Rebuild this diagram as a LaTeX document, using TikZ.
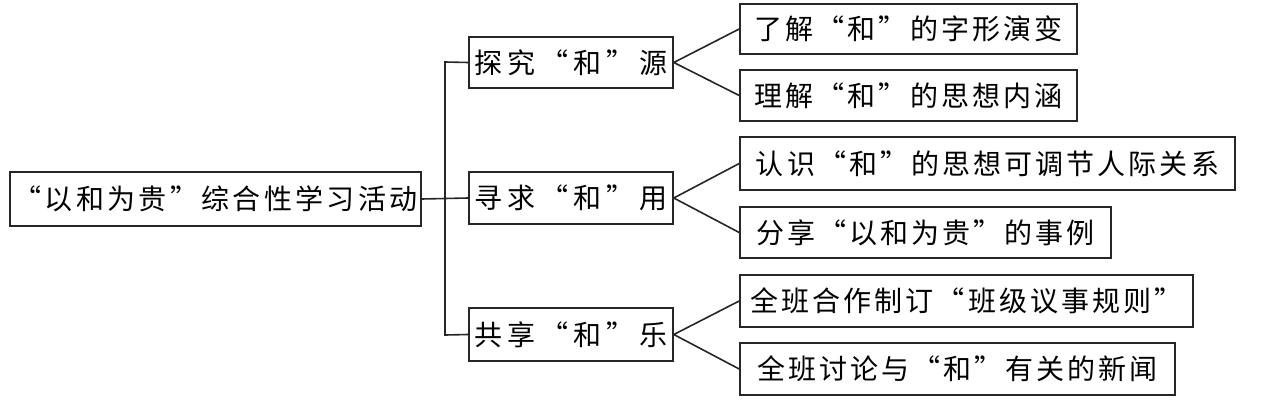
\documentclass[tikz,border=0pt]{standalone}
\usepackage{fontspec}
\newfontfamily\cjkroot[LetterSpace=12]{Noto Sans CJK SC}
\newfontfamily\cjkmid[LetterSpace=18]{Noto Sans CJK SC}
\newfontfamily\cjkleaf[LetterSpace=11]{Noto Sans CJK SC}
\begin{document}
\begin{tikzpicture}[x=0.75pt,y=-0.75pt,
  box/.style={draw=black!85, line width=1.2pt, inner sep=0pt, font=\fontsize{21}{24}\selectfont},
  link/.style={draw=black!85, line width=1.2pt}]
\useasboundingbox (0,0) rectangle (1262,403);
% root
\node[box, minimum width=411*0.75pt, minimum height=54*0.75pt] (root) at (215.5,199) {\cjkroot “以和为贵”综合性学习活动};
% middle
\node[box, minimum width=204*0.75pt, minimum height=51*0.75pt] (m1) at (571,62.5) {\cjkmid 探究“和”源};
\node[box, minimum width=204*0.75pt, minimum height=52*0.75pt] (m2) at (571,198) {\cjkmid 寻求“和”用};
\node[box, minimum width=204*0.75pt, minimum height=53*0.75pt] (m3) at (571,334.5) {\cjkmid 共享“和”乐};
% leaves
\node[box, minimum width=337*0.75pt, minimum height=50*0.75pt] (l1) at (908.5,29) {\cjkleaf 了解“和”的字形演变};
\node[box, minimum width=337*0.75pt, minimum height=51*0.75pt] (l2) at (908.5,95.5) {\cjkleaf 理解“和”的思想内涵};
\node[box, minimum width=495*0.75pt, minimum height=53*0.75pt] (l3) at (987.5,163.5) {\cjkleaf 认识“和”的思想可调节人际关系};
\node[box, minimum width=371*0.75pt, minimum height=51*0.75pt] (l4) at (925.5,232.5) {\cjkleaf 分享“以和为贵”的事例};
\node[box, minimum width=453*0.75pt, minimum height=52*0.75pt] (l5) at (966.5,301) {\cjkleaf 全班合作制订“班级议事规则”};
\node[box, minimum width=435*0.75pt, minimum height=52*0.75pt] (l6) at (957.5,369) {\cjkleaf 全班讨论与“和”有关的新闻};
% trunk
\coordinate (jt) at (445,62);
\coordinate (jb) at (445,335);
\draw[link] (root.east) -- (m2.west);
\draw[link] (m1.west) -- (jt) -- (jb) -- (m3.west);
% fans
\draw[link] (l1.west) -- (m1.east) -- (l2.west);
\draw[link] (l3.west) -- (m2.east) -- (l4.west);
\draw[link] (l5.west) -- (m3.east) -- (l6.west);
\end{tikzpicture}
\end{document}
